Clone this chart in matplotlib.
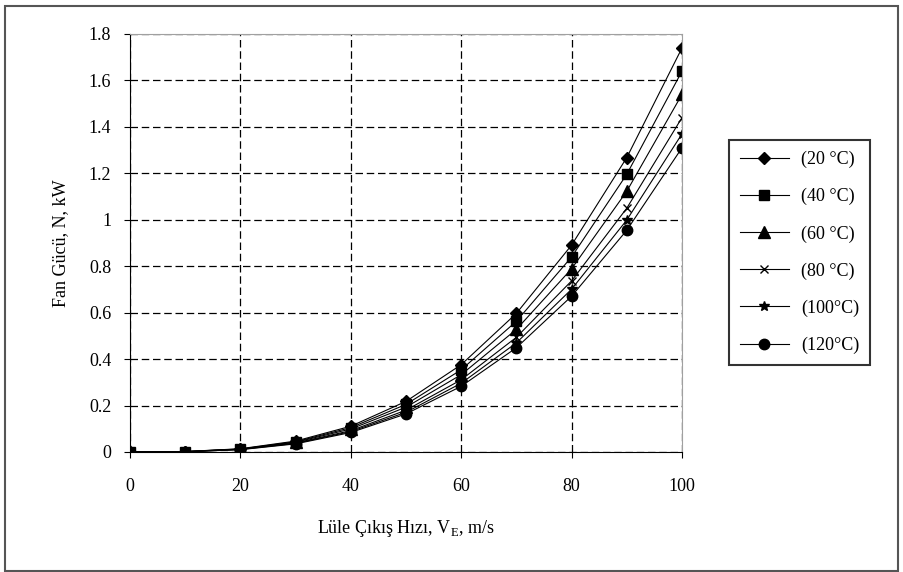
import matplotlib.pyplot as plt
import matplotlib.patches as mpatches

plt.rcParams['font.family'] = ['Liberation Serif', 'DejaVu Serif']

# nozzle exit velocity, m/s
velocity = [0, 10, 20, 30, 40, 50, 60, 70, 80, 90, 100]

# fan power, kW, for each temperature
p20 = [0, 0.002, 0.014, 0.047, 0.111, 0.218, 0.376, 0.597, 0.891, 1.268, 1.74]
p40 = [0, 0.002, 0.013, 0.044, 0.105, 0.205, 0.354, 0.563, 0.840, 1.196, 1.64]
p60 = [0, 0.002, 0.012, 0.042, 0.099, 0.193, 0.333, 0.528, 0.789, 1.123, 1.54]
p80 = [0, 0.001, 0.012, 0.039, 0.092, 0.180, 0.311, 0.494, 0.737, 1.050, 1.44]
p100 = [0, 0.001, 0.011, 0.037, 0.088, 0.171, 0.296, 0.470, 0.701, 0.999, 1.37]
p120 = [0, 0.001, 0.010, 0.035, 0.084, 0.164, 0.283, 0.449, 0.671, 0.955, 1.31]

labels = ['(20 °C)', '(40 °C)', '(60 °C)', '(80 °C)', '(100°C)', '(120°C)']
series = [p20, p40, p60, p80, p100, p120]
markers = ['D', 's', '^', 'x', '*', 'o']
sizes = [6.5, 7, 8, 6, 7, 7.5]

fig = plt.figure(figsize=(9.04, 5.72), dpi=100)
ax = fig.add_axes([130 / 904, 1 - 452 / 572, 552 / 904, 418 / 572])

# outer frame of the chart
fig.patches.append(mpatches.Rectangle((5 / 904, 1 / 572), 893 / 904, 565 / 572,
                                      transform=fig.transFigure, fill=False,
                                      edgecolor='#555555', linewidth=1.5))

for ys, lab, m, s in zip(series, labels, markers, sizes):
    ax.plot(velocity, ys, color='black', linewidth=0.8, marker=m,
            markersize=s, markeredgewidth=1.0, label=lab)

ax.set_xlim(0, 100)
ax.set_ylim(0, 1.8)
ax.set_xticks(range(0, 101, 20))
ax.set_yticks([0, 0.2, 0.4, 0.6, 0.8, 1, 1.2, 1.4, 1.6, 1.8])
ax.set_yticklabels(['0', '0.2', '0.4', '0.6', '0.8', '1', '1.2', '1.4', '1.6', '1.8'])
ax.grid(True, color='black', linestyle=(0, (6, 3)), linewidth=0.9)
ax.tick_params(labelsize=13, direction='out', length=4.5, color='black')
ax.tick_params(axis='x', pad=14)
ax.tick_params(axis='y', pad=9)

for side in ['top', 'right']:
    ax.spines[side].set_color('#a0a0a0')
ax.spines['left'].set_color('black')
ax.spines['bottom'].set_color('black')

ax.set_xlabel('Lüle Çıkış Hızı, V$_\\mathregular{E}$, m/s', fontsize=13, labelpad=17)
ax.set_ylabel('Fan Gücü, N, kW', fontsize=13, labelpad=14)

leg = ax.legend(loc='upper left', bbox_to_anchor=(720 / 904, 1 - 131 / 572),
                bbox_transform=fig.transFigure, fontsize=13, frameon=True,
                fancybox=False, edgecolor='black', labelspacing=1.1,
                handlelength=2.7, handletextpad=0.7, borderpad=0.6)
leg.get_frame().set_linewidth(1.5)

fig.savefig('out.png', dpi=100)
